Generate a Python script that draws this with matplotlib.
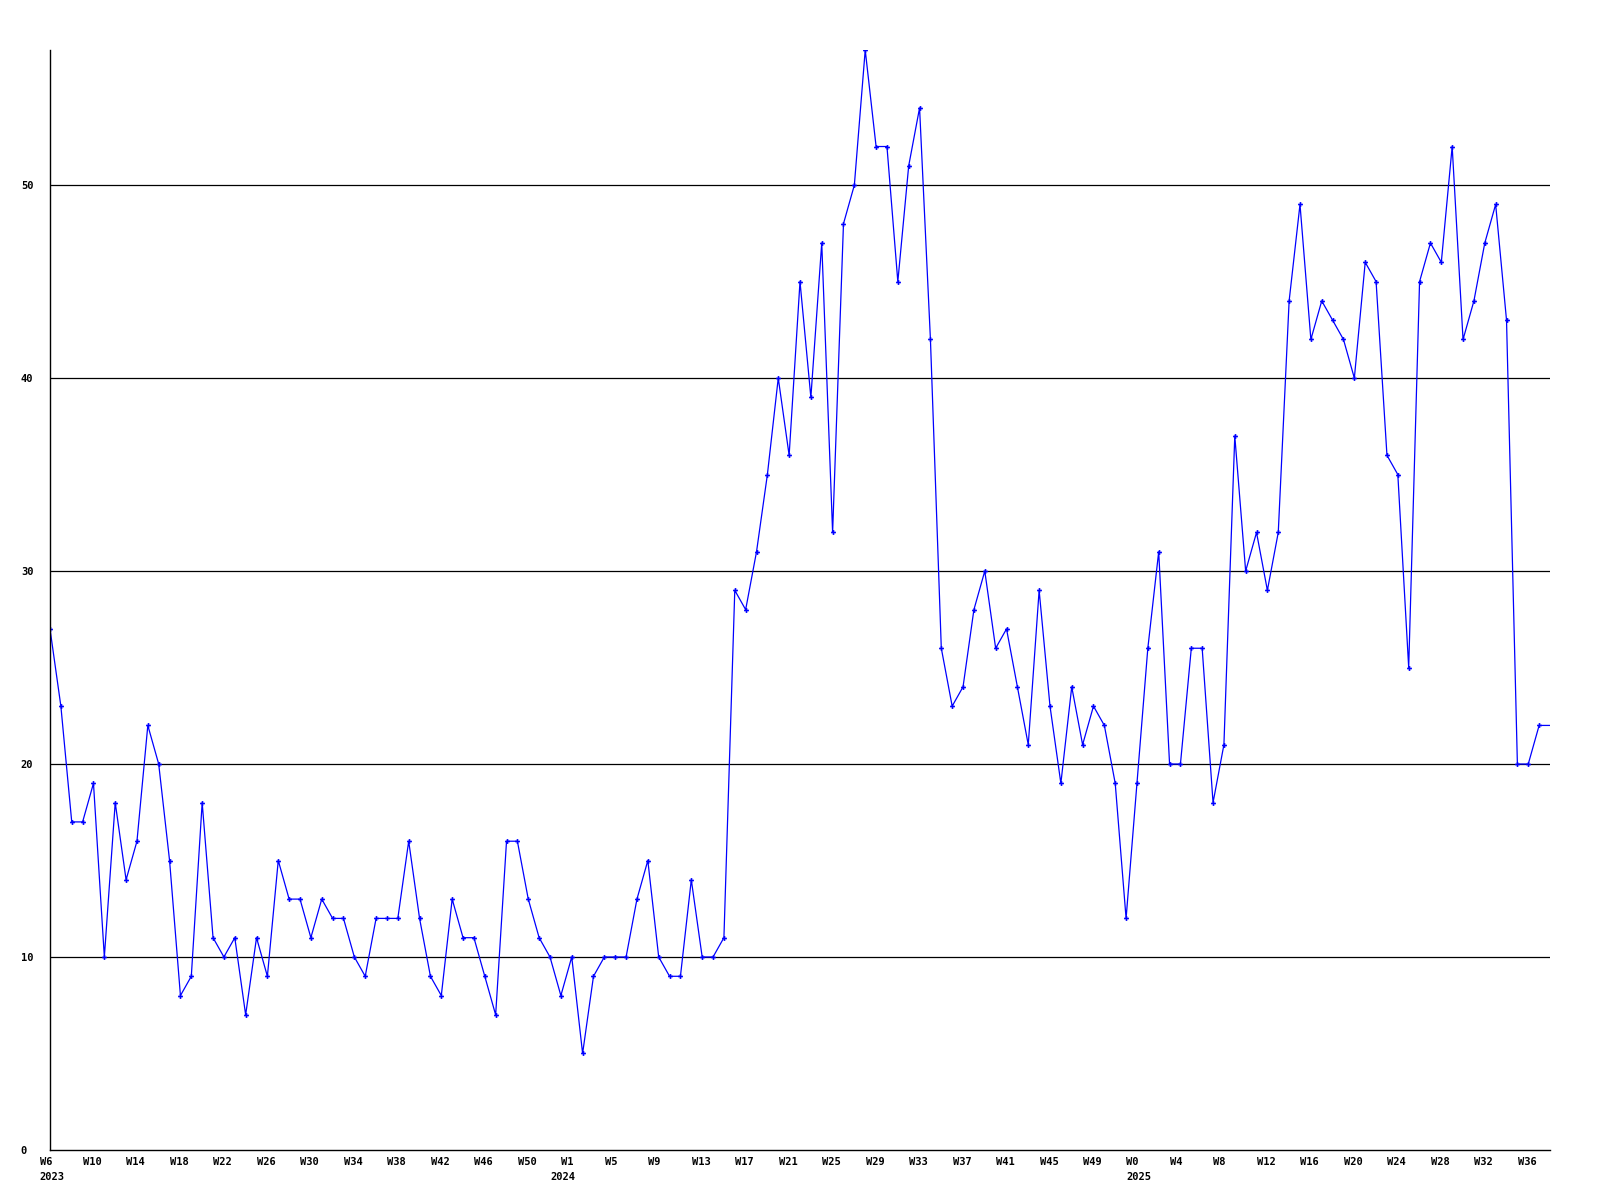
import matplotlib
matplotlib.use("Agg")
import matplotlib.pyplot as plt
from matplotlib.transforms import ScaledTranslation

# weekly counts, W6 2023 .. W37 2025
values_2023 = [27, 23, 17, 17, 19, 10, 18, 14, 16, 22, 20, 15, 8, 9, 18, 11, 10,
               11, 7, 11, 9, 15, 13, 13, 11, 13, 12, 12, 10, 9, 12, 12, 12, 16,
               12, 9, 8, 13, 11, 11, 9, 7, 16, 16, 13, 11, 10]
values_2024 = [8, 10, 5, 9, 10, 10, 10, 13, 15, 10, 9, 9, 14, 10, 10, 11, 29, 28,
               31, 35, 40, 36, 45, 39, 47, 32, 48, 50, 57, 52, 52, 45, 51, 54, 42,
               26, 23, 24, 28, 30, 26, 27, 24, 21, 29, 23, 19, 24, 21, 23, 22, 19,
               12]
values_2025 = [19, 26, 31, 20, 20, 26, 26, 18, 21, 37, 30, 32, 29, 32, 44, 49, 42,
               44, 43, 42, 40, 46, 45, 36, 35, 25, 45, 47, 46, 52, 42, 44, 47, 49,
               43, 20, 20, 22, 22]
values = values_2023 + values_2024 + values_2025

tick_labels = ["W6", "W10", "W14", "W18", "W22", "W26", "W30", "W34", "W38",
               "W42", "W46", "W50", "W1", "W5", "W9", "W13", "W17", "W21", "W25",
               "W29", "W33", "W37", "W41", "W45", "W49", "W0", "W4", "W8", "W12",
               "W16", "W20", "W24", "W28", "W32", "W36"]
year_labels = ["2023", "2024", "2025"]
year_starts = [0, len(values_2023), len(values_2023) + len(values_2024)]

x = list(range(len(values)))

fig = plt.figure(figsize=(16, 12), dpi=100)
ax = fig.add_axes([0.03125, 0.0417, 0.9375, 0.9166])

ax.plot(x, values, color="#0000ff", linewidth=0.9, marker="P", markersize=3.5,
        markeredgewidth=0, markevery=slice(0, len(values) - 1))

ax.set_xlim(0, len(values) - 1)
ax.set_ylim(0, 57)
ax.set_yticks([0, 10, 20, 30, 40, 50])
for y in [10, 20, 30, 40, 50]:
    ax.axhline(y, color="black", linewidth=0.9, zorder=0)

ax.set_xticks(x[::4])
ax.set_xticklabels(tick_labels)
ax.set_xticks(year_starts, minor=True)
ax.set_xticklabels(year_labels, minor=True)
ax.xaxis.remove_overlapping_locs = False

for side in ["top", "right"]:
    ax.spines[side].set_visible(False)
for side in ["left", "bottom"]:
    ax.spines[side].set_linewidth(1.0)
    ax.spines[side].set_color("black")

font = dict(family="DejaVu Sans Mono", weight="bold", size=7.5)
ax.tick_params(axis="x", which="major", length=0, pad=5)
ax.tick_params(axis="x", which="minor", length=0, pad=16)
ax.tick_params(axis="y", length=0, pad=21)

shift = ScaledTranslation(-10.5 / 100, 0, fig.dpi_scale_trans)
for lab in ax.get_xticklabels() + ax.get_xticklabels(minor=True):
    lab.set_ha("left")
    lab.set_transform(lab.get_transform() + shift)
    lab.set_fontproperties(matplotlib.font_manager.FontProperties(**font))
for lab in ax.get_yticklabels():
    lab.set_ha("left")
    lab.set_fontproperties(matplotlib.font_manager.FontProperties(**font))

fig.savefig("out.png", dpi=100)
